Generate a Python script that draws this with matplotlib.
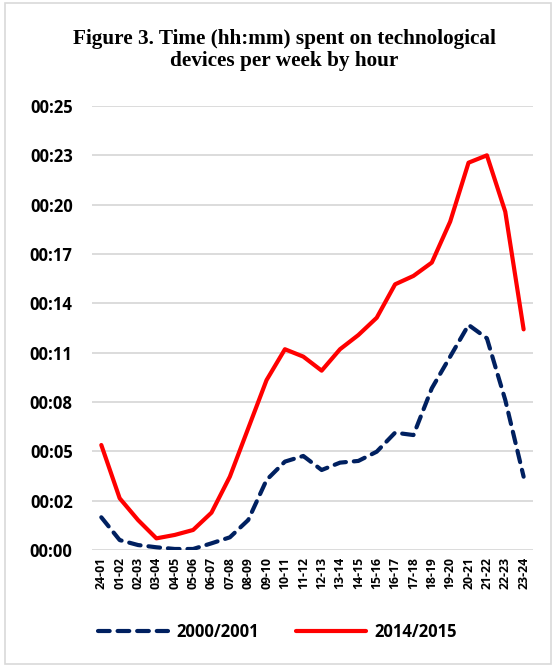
import matplotlib.pyplot as plt
from matplotlib.patches import Rectangle

# hour slots on the x axis
hours = ["24-01", "01-02", "02-03", "03-04", "04-05", "05-06", "06-07", "07-08",
         "08-09", "09-10", "10-11", "11-12", "12-13", "13-14", "14-15", "15-16",
         "16-17", "17-18", "18-19", "19-20", "20-21", "21-22", "22-23", "23-24"]

# minutes per week
y2000 = [1.91, 0.58, 0.29, 0.16, 0.06, 0.06, 0.39, 0.74, 1.75, 4.09, 5.16, 5.49,
         4.67, 5.10, 5.20, 5.74, 6.85, 6.71, 9.44, 11.29, 13.14, 12.36, 8.76, 4.28]
y2014 = [6.13, 3.02, 1.75, 0.68, 0.88, 1.17, 2.18, 4.28, 7.10, 9.92, 11.72, 11.29,
         10.47, 11.72, 12.55, 13.56, 15.51, 16.00, 16.78, 19.17, 22.61, 23.04, 19.75, 12.88]

# excel-style time ticks (0.002 day steps = 2.88 min)
tick_vals = [i * 2.88 for i in range(10)]
tick_labels = ["00:00", "00:02", "00:05", "00:08", "00:11", "00:14",
               "00:17", "00:20", "00:23", "00:25"]

fig = plt.figure(figsize=(5.55, 6.67), dpi=100)
fig.patches.append(Rectangle((0.009, 0.005), 0.984, 0.99, transform=fig.transFigure,
                             fill=False, edgecolor="#d9d9d9", linewidth=1.2))
ax = fig.add_axes([0.166, 0.1754, 0.794, 0.6657])

x = list(range(len(hours)))
ax.plot(x, y2000, color="#002060", linewidth=3, linestyle=(0, (2.8, 1.9)),
        dash_capstyle="round", solid_capstyle="round", label="2000/2001", zorder=3)
ax.plot(x, y2014, color="#ff0000", linewidth=3, solid_capstyle="round",
        label="2014/2015", zorder=3)

ax.set_xlim(-0.5, len(hours) - 0.5)
ax.set_ylim(0, tick_vals[-1])
ax.set_yticks(tick_vals)
ax.set_yticklabels(tick_labels, fontsize=12, fontweight="bold", family="Open Sans")
ax.set_xticks(x)
ax.set_xticklabels(hours, rotation=90, fontsize=8.8, fontweight="bold", family="Open Sans")
ax.tick_params(axis="both", length=0)
ax.tick_params(axis="y", pad=14)
ax.tick_params(axis="x", pad=5)
ax.grid(axis="y", color="#d9d9d9", linewidth=1.3)
ax.set_axisbelow(True)
for s in ax.spines.values():
    s.set_visible(False)

fig.text(0.512, 0.925, "Figure 3. Time (hh:mm) spent on technological\ndevices per week by hour",
         ha="center", va="center", fontsize=15.3, fontweight="bold",
         family="Liberation Serif", linespacing=1.12)

leg = fig.legend(loc="center", bbox_to_anchor=(0.5, 0.052), ncol=2, frameon=False,
                 prop={"family": "Open Sans", "weight": "bold", "size": 12},
                 handlelength=4.2, columnspacing=2.2, handletextpad=0.5)

fig.savefig("out.png", dpi=100)
